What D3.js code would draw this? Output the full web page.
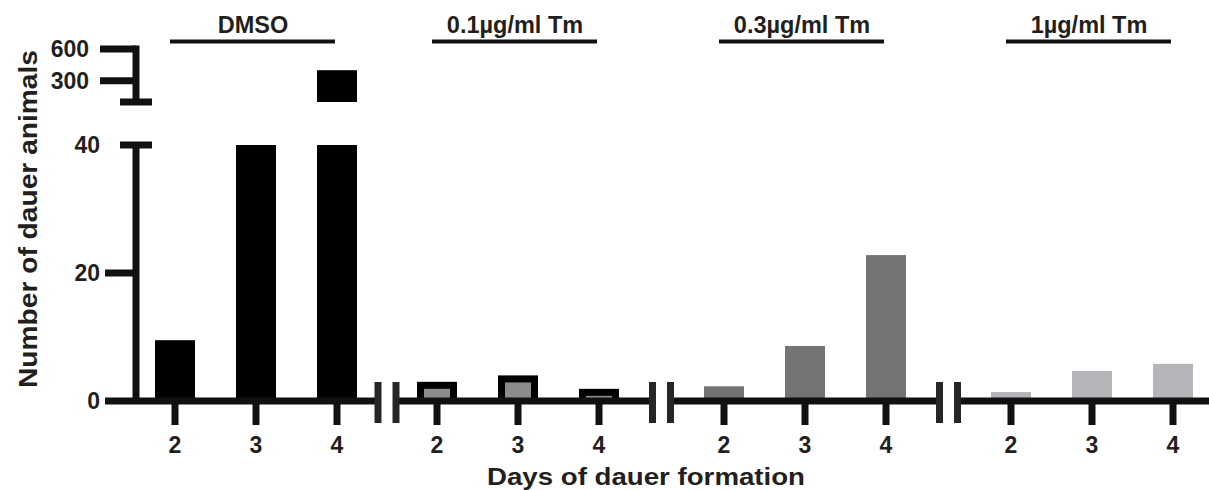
<!DOCTYPE html>
<html>
<head>
<meta charset="utf-8">
<script src="https://cdn.jsdelivr.net/npm/d3@7"></script>
<style>
body { margin: 0; background: #fff; }
svg { display: block; font-family: "Liberation Sans", Arial, sans-serif; font-weight: bold; }
</style>
</head>
<body>
<svg id="chart" width="1209" height="490"></svg>
<script>
// values
var groups = ["DMSO", "0.1µg/ml Tm", "0.3µg/ml Tm", "1µg/ml Tm"];
var days = ["2", "3", "4"];
var dmso = [9.5, 40, 400];
var tm01 = [3.0, 4.0, 1.9];
var tm03 = [2.3, 8.6, 22.8];
var tm1 = [1.4, 4.7, 5.8];
var lowTicks = [0, 20, 40];
var highTicks = [300, 600];
var xTitle = "Days of dauer formation";
var yTitle = "Number of dauer animals";

var series = [dmso, tm01, tm03, tm1];
var fills = ["#000", "#8c8c8c", "#747474", "#b4b4b9"];
var ink = "#111";
var textInk = "#231f20";

var svg = d3.select("#chart");

var gx = d3.scaleOrdinal().domain(groups).range([256, 518, 805, 1092]);
var dx = d3.scalePoint().domain(days).range([-81, 81]);
function xPos(g, d) { return gx(g) + dx(d); }

var yLow = d3.scaleLinear().domain([0, 40]).range([401, 145]);
var yHigh = d3.scaleLinear().domain([100, 600]).range([102, 49]);
var lowMax = yLow.domain()[1], highMin = yHigh.domain()[0];

var axisX = 136, barW = 40, lw = 7, inset = 7;

// bars
groups.forEach(function (g, gi) {
    var rows = days.map(function (d, i) { return { d: d, v: series[gi][i] }; });
    var grp = svg.append("g").attr("class", "bars");
    grp.selectAll("rect.low").data(rows).join("rect")
        .attr("class", "low")
        .attr("x", function (r) { return xPos(g, r.d) - barW / 2; })
        .attr("y", function (r) { return yLow(Math.min(r.v, lowMax)); })
        .attr("width", barW)
        .attr("height", function (r) { return yLow(0) - yLow(Math.min(r.v, lowMax)); })
        .attr("fill", gi == 1 ? "#000" : fills[gi]);
    grp.selectAll("rect.high").data(rows.filter(function (r) { return r.v > highMin; })).join("rect")
        .attr("class", "high")
        .attr("x", function (r) { return xPos(g, r.d) - barW / 2; })
        .attr("y", function (r) { return yHigh(r.v); })
        .attr("width", barW)
        .attr("height", function (r) { return yHigh(highMin) - yHigh(r.v); })
        .attr("fill", fills[gi]);
    if (gi == 1) {
        // outlined bars: grey inside a thick black border
        grp.selectAll("rect.inner").data(rows).join("rect")
            .attr("class", "inner")
            .attr("x", function (r) { return xPos(g, r.d) - barW / 2 + inset; })
            .attr("y", function (r) { return yLow(r.v) + inset; })
            .attr("width", barW - 2 * inset)
            .attr("height", function (r) { return Math.max(0, yLow(0) - yLow(r.v) - inset); })
            .attr("fill", fills[gi]);
    }
});

// x axis with breaks between groups
var axis = svg.append("g").attr("stroke", ink).attr("stroke-width", lw).attr("fill", "none");
var y0 = yLow(0);
var breaks = [];
for (var i = 1; i < groups.length; i++) {
    breaks.push((xPos(groups[i - 1], days[2]) + xPos(groups[i], days[0])) / 2);
}
var segStarts = [105].concat(breaks.map(function (b) { return b + 9; }));
var segEnds = breaks.map(function (b) { return b - 9; }).concat([1209]);
segStarts.forEach(function (s, i) {
    axis.append("line").attr("x1", s).attr("x2", segEnds[i]).attr("y1", y0).attr("y2", y0);
});
breaks.forEach(function (b) {
    [-9, 9].forEach(function (o) {
        axis.append("line").attr("stroke", "#262626")
            .attr("x1", b + o).attr("x2", b + o).attr("y1", y0 - 19).attr("y2", y0 + 22);
    });
});

groups.forEach(function (g) {
    days.forEach(function (d) {
        axis.append("line").attr("x1", xPos(g, d)).attr("x2", xPos(g, d))
            .attr("y1", y0).attr("y2", y0 + 24);
    });
    svg.append("text").attr("x", gx(g) - 3).attr("y", 33)
        .attr("text-anchor", "middle").attr("font-size", 23.5).attr("fill", textInk).text(g);
    axis.append("line").attr("stroke-width", 4)
        .attr("x1", xPos(g, days[0]) - 5).attr("x2", xPos(g, days[2]) - 2)
        .attr("y1", 41.5).attr("y2", 41.5);
});

svg.append("g").selectAll("text").data(groups.flatMap(function (g) {
    return days.map(function (d) { return { g: g, d: d }; });
})).join("text")
    .attr("x", function (r) { return xPos(r.g, r.d); })
    .attr("y", 453)
    .attr("text-anchor", "middle").attr("font-size", 23).attr("fill", textInk)
    .text(function (r) { return r.d; });

// y axis, lower part
axis.append("line").attr("x1", axisX).attr("x2", axisX).attr("y1", yLow(lowMax)).attr("y2", y0);
axis.append("line").attr("x1", axisX - 16).attr("x2", axisX + 16)
    .attr("y1", yLow(lowMax)).attr("y2", yLow(lowMax));
lowTicks.filter(function (t) { return t > 0 && t < lowMax; }).forEach(function (t) {
    axis.append("line").attr("x1", axisX - 31).attr("x2", axisX).attr("y1", yLow(t)).attr("y2", yLow(t));
});
svg.append("g").selectAll("text").data(lowTicks).join("text")
    .attr("x", 100).attr("y", function (t) { return yLow(t); }).attr("dy", "0.35em")
    .attr("text-anchor", "end").attr("font-size", 23).attr("fill", textInk)
    .text(function (t) { return t; });

// y axis, upper part
axis.append("line").attr("x1", axisX).attr("x2", axisX)
    .attr("y1", yHigh(highTicks[1]) - lw / 2).attr("y2", yHigh(highMin));
axis.append("line").attr("x1", axisX - 16).attr("x2", axisX + 16)
    .attr("y1", yHigh(highMin)).attr("y2", yHigh(highMin));
highTicks.forEach(function (t) {
    axis.append("line").attr("x1", axisX - 36).attr("x2", axisX).attr("y1", yHigh(t)).attr("y2", yHigh(t));
});
svg.append("g").selectAll("text").data(highTicks).join("text")
    .attr("x", 89).attr("y", function (t) { return yHigh(t); }).attr("dy", "0.35em")
    .attr("text-anchor", "end").attr("font-size", 23).attr("fill", textInk)
    .text(function (t) { return t; });

// axis titles
svg.append("text").attr("x", 646).attr("y", 485).attr("text-anchor", "middle")
    .attr("font-size", 24).attr("fill", textInk)
    .attr("textLength", 318).attr("lengthAdjust", "spacingAndGlyphs").text(xTitle);
svg.append("text").attr("transform", "translate(37,219) rotate(-90)").attr("text-anchor", "middle")
    .attr("font-size", 26).attr("fill", textInk)
    .attr("textLength", 338).attr("lengthAdjust", "spacingAndGlyphs").text(yTitle);
</script>
</body>
</html>
